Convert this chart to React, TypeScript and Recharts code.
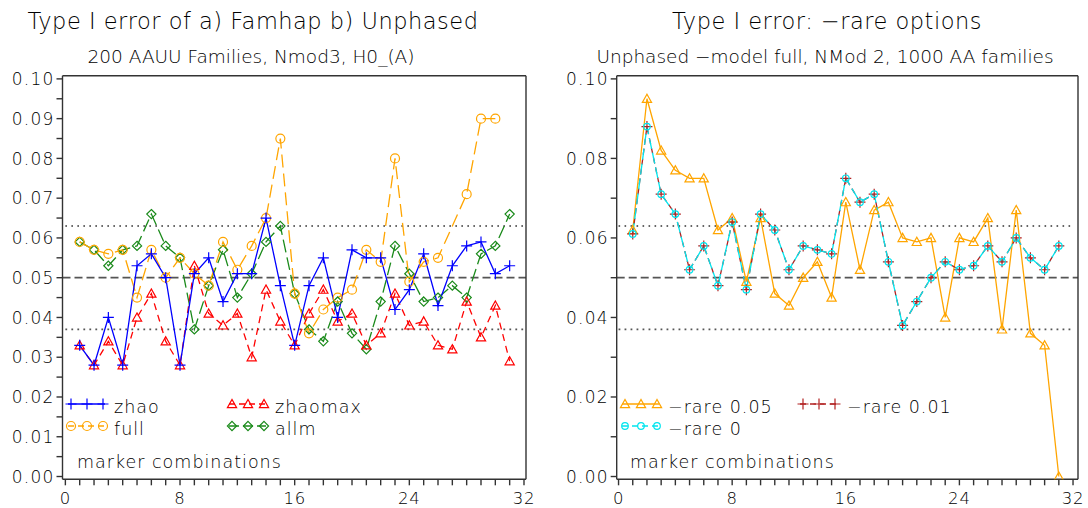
import React from 'react';
import { LineChart, Line, XAxis, YAxis, ReferenceLine } from 'recharts';

// ---- data ---------------------------------------------------------------
const markerCombos = [1, 2, 3, 4, 5, 6, 7, 8, 9, 10, 11, 12, 13, 14, 15, 16, 17, 18, 19, 20, 21, 22, 23, 24, 25, 26, 27, 28, 29, 30, 31];

// Left panel: Famhap / Unphased, 200 AAUU families
const zhao = [0.033, 0.028, 0.040, 0.028, 0.053, 0.056, 0.050, 0.028, 0.051, 0.055, 0.044, 0.051, 0.051, 0.065, 0.048, 0.033, 0.048, 0.055, 0.040, 0.057, 0.055, 0.055, 0.042, 0.047, 0.056, 0.043, 0.053, 0.058, 0.059, 0.051, 0.053];
const full = [0.059, 0.057, 0.056, 0.057, 0.045, 0.057, 0.050, 0.055, 0.051, 0.048, 0.059, 0.052, 0.058, 0.065, 0.085, 0.046, 0.036, 0.042, 0.045, 0.047, 0.057, 0.054, 0.080, 0.049, 0.054, 0.055, null, 0.071, 0.090, 0.090, null];
const zhaomax = [0.033, 0.028, 0.034, 0.028, 0.040, 0.046, 0.034, 0.028, 0.053, 0.041, 0.038, 0.041, 0.030, 0.047, 0.039, 0.033, 0.041, 0.047, 0.039, 0.041, 0.033, 0.036, 0.046, 0.038, 0.039, 0.033, 0.032, 0.044, 0.035, 0.043, 0.029];
const allm = [0.059, 0.057, 0.053, 0.057, 0.058, 0.066, 0.058, 0.055, 0.037, 0.048, 0.057, 0.045, 0.051, 0.059, 0.063, 0.046, 0.037, 0.034, 0.044, 0.036, 0.032, 0.044, 0.058, 0.051, 0.044, 0.045, 0.048, 0.045, 0.056, 0.058, 0.066];

// Right panel: Unphased -rare options, 1000 AA families
const rare005 = [0.062, 0.095, 0.082, 0.077, 0.075, 0.075, 0.062, 0.065, 0.049, 0.065, 0.046, 0.043, 0.050, 0.054, 0.045, 0.069, 0.052, 0.067, 0.069, 0.060, 0.059, 0.060, 0.040, 0.060, 0.059, 0.065, 0.037, 0.067, 0.036, 0.033, 0.000];
const rare001 = [0.061, 0.088, 0.071, 0.066, 0.052, 0.058, 0.048, 0.064, 0.047, 0.066, 0.062, 0.052, 0.058, 0.057, 0.056, 0.075, 0.069, 0.071, 0.054, 0.038, 0.044, 0.050, 0.054, 0.052, 0.053, 0.058, 0.054, 0.060, 0.055, 0.052, 0.058];
const rare0 = [0.061, 0.088, 0.071, 0.066, 0.052, 0.058, 0.048, 0.064, 0.047, 0.066, 0.062, 0.052, 0.058, 0.057, 0.056, 0.075, 0.069, 0.071, 0.054, 0.038, 0.044, 0.050, 0.054, 0.052, 0.053, 0.058, 0.054, 0.060, 0.055, 0.052, 0.058];

// Nominal level and its confidence band
const nominal = 0.05;
const bandLow = 0.037;
const bandHigh = 0.063;

const xTicks = [0, 1, 2, 3, 4, 5, 6, 7, 8, 9, 10, 11, 12, 13, 14, 15, 16, 17, 18, 19, 20, 21, 22, 23, 24, 25, 26, 27, 28, 29, 30, 31, 32];
const yTicksLeft = [0, 0.005, 0.01, 0.015, 0.02, 0.025, 0.03, 0.035, 0.04, 0.045, 0.05, 0.055, 0.06, 0.065, 0.07, 0.075, 0.08, 0.085, 0.09, 0.095, 0.1];
const yTicksRight = [0, 0.01, 0.02, 0.03, 0.04, 0.05, 0.06, 0.07, 0.08, 0.09, 0.1];

const leftRows = markerCombos.map((x, i) => ({ x, zhao: zhao[i], full: full[i], zhaomax: zhaomax[i], allm: allm[i] }));
const rightRows = markerCombos.map((x, i) => ({ x, rare005: rare005[i], rare001: rare001[i], rare0: rare0[i] }));

// ---- styling ------------------------------------------------------------
const FONT = '"DejaVu Sans", "Noto Sans", sans-serif';
const WEIGHT = 200;
const INK = '#000';
const AXIS = '#333';
const BLUE = '#0000ff';
const ORANGE = '#ffa500';
const RED = '#ff0000';
const GREEN = '#1a8a1a';
const DARKRED = '#b22222';
const CYAN = '#00e5ee';

const Y_DOMAIN: [number, number] = [-0.0007, 0.1008];
const XL_DOMAIN: [number, number] = [-0.2, 32.14];
const XR_DOMAIN: [number, number] = [-0.13, 32.35];

type Kind = 'plus' | 'circle' | 'smallcircle' | 'triangle' | 'diamond';

function Marker({ kind, cx, cy, color }: { kind: Kind; cx: number; cy: number; color: string }) {
  const sw = 1.2;
  switch (kind) {
    case 'plus':
      return <path d={`M${cx - 5.5},${cy}H${cx + 5.5}M${cx},${cy - 5.5}V${cy + 5.5}`} stroke={color} strokeWidth={sw} fill="none" />;
    case 'circle':
      return <circle cx={cx} cy={cy} r={4.5} stroke={color} strokeWidth={sw} fill="none" />;
    case 'smallcircle':
      return <circle cx={cx} cy={cy} r={3.3} stroke={color} strokeWidth={sw} fill="none" />;
    case 'triangle':
      return <path d={`M${cx - 4.6},${cy + 3.6}L${cx + 4.6},${cy + 3.6}L${cx},${cy - 4.6}Z`} stroke={color} strokeWidth={sw} fill="none" />;
    case 'diamond':
      return <path d={`M${cx},${cy - 4.6}L${cx + 4.6},${cy}L${cx},${cy + 4.6}L${cx - 4.6},${cy}Z`} stroke={color} strokeWidth={sw} fill="none" />;
  }
  return null;
}

const dotFor = (kind: Kind, color: string) => (p: any) => {
  const key = `${kind}-${color}-${p.index}`;
  if (p.cx == null || p.cy == null || p.value == null || Number.isNaN(p.cy)) return <g key={key} />;
  return (
    <g key={key}>
      <Marker kind={kind} cx={p.cx} cy={p.cy} color={color} />
    </g>
  );
};

const XTick = (props: any) => {
  const { x, y, payload } = props;
  if (payload.value % 8 !== 0) return <g />;
  return (
    <text x={x} y={y} dy="0.72em" textAnchor="middle" fontFamily={FONT} fontWeight={WEIGHT} fontSize={16.5} fill={INK} letterSpacing={0.8}>
      {payload.value}
    </text>
  );
};

const makeYTick = (step: number) => (props: any) => {
  const { x, y, payload } = props;
  const k = Math.round(payload.value * 1000);
  if (k % step !== 0) return <g />;
  return (
    <text x={x} y={y} dy="0.36em" textAnchor="end" fontFamily={FONT} fontWeight={WEIGHT} fontSize={17} fill={INK} letterSpacing={1.2}>
      {payload.value.toFixed(2)}
    </text>
  );
};

const YTickLeft = makeYTick(10);
const YTickRight = makeYTick(20);

function guides(xStart: number, xEnd: number, boxRight: number) {
  return [
    <ReferenceLine key="hi" segment={[{ x: xStart, y: bandHigh }, { x: xEnd, y: bandHigh }]} stroke="#333" strokeWidth={1.4} strokeDasharray="1.6 4.4" />,
    <ReferenceLine key="lo" segment={[{ x: xStart, y: bandLow }, { x: xEnd, y: bandLow }]} stroke="#555" strokeWidth={1.6} strokeDasharray="1.8 4.2" />,
    <ReferenceLine key="nom" y={nominal} stroke="#555" strokeWidth={1.8} strokeDasharray="8 4" />,
    <ReferenceLine key="top" y={Y_DOMAIN[1]} stroke={AXIS} strokeWidth={1.4} />,
    <ReferenceLine key="right" x={boxRight} stroke={AXIS} strokeWidth={1.4} />,
  ];
}

function LeftPanel() {
  return (
    <LineChart width={545} height={508} data={leftRows} margin={{ top: 75.7, right: 19, bottom: 0, left: 0 }}>
      <XAxis dataKey="x" type="number" domain={XL_DOMAIN} ticks={xTicks} interval={0} allowDataOverflow
        tick={<XTick />} tickSize={6} tickMargin={6.5} height={28.7} stroke={AXIS} strokeWidth={1.4} />
      <YAxis type="number" domain={Y_DOMAIN} ticks={yTicksLeft} interval={0} allowDataOverflow
        tick={<YTickLeft />} tickSize={6} tickMargin={2} width={62.5} stroke={AXIS} strokeWidth={1.4} />
      {guides(0, 32, XL_DOMAIN[1])}
      <Line dataKey="allm" stroke={GREEN} strokeWidth={1.3} strokeDasharray="13 5" dot={dotFor('diamond', GREEN)} isAnimationActive={false} />
      <Line dataKey="zhaomax" stroke={RED} strokeWidth={1.3} strokeDasharray="7 5" dot={dotFor('triangle', RED)} isAnimationActive={false} />
      <Line dataKey="full" stroke={ORANGE} strokeWidth={1.3} strokeDasharray="13 6" connectNulls dot={dotFor('circle', ORANGE)} isAnimationActive={false} />
      <Line dataKey="zhao" stroke={BLUE} strokeWidth={1.3} dot={dotFor('plus', BLUE)} isAnimationActive={false} />
    </LineChart>
  );
}

function RightPanel() {
  return (
    <LineChart width={543} height={508} data={rightRows} margin={{ top: 75.7, right: 10, bottom: 0, left: 0 }}>
      <XAxis dataKey="x" type="number" domain={XR_DOMAIN} ticks={xTicks} interval={0} allowDataOverflow
        tick={<XTick />} tickSize={6} tickMargin={6.5} height={28.7} stroke={AXIS} strokeWidth={1.4} />
      <YAxis type="number" domain={Y_DOMAIN} ticks={yTicksRight} interval={0} allowDataOverflow
        tick={<YTickRight />} tickSize={6} tickMargin={2} width={71.7} stroke={AXIS} strokeWidth={1.4} />
      {guides(0, 32, XR_DOMAIN[1])}
      <Line dataKey="rare005" stroke={ORANGE} strokeWidth={1.3} dot={dotFor('triangle', ORANGE)} isAnimationActive={false} />
      <Line dataKey="rare001" stroke={DARKRED} strokeWidth={1.3} strokeDasharray="6 4" dot={dotFor('plus', DARKRED)} isAnimationActive={false} />
      <Line dataKey="rare0" stroke={CYAN} strokeWidth={1.3} strokeDasharray="11 4" dot={dotFor('smallcircle', CYAN)} isAnimationActive={false} />
    </LineChart>
  );
}

// Legend entry: a short line with three markers
function LegendKey({ x, y, kind, color, dash, label, textX }: { x: number; y: number; kind: Kind; color: string; dash?: string; label: string; textX: number }) {
  return (
    <g>
      <line x1={x - 2} y1={y} x2={x + 35} y2={y} stroke={color} strokeWidth={1.3} strokeDasharray={dash} />
      <Marker kind={kind} cx={x + 1} cy={y} color={color} />
      <Marker kind={kind} cx={x + 17} cy={y} color={color} />
      <Marker kind={kind} cx={x + 33} cy={y} color={color} />
      <text x={textX} y={y + 9} fontFamily={FONT} fontWeight={WEIGHT} fontSize={17.5} fill={INK} letterSpacing={1}>{label}</text>
    </g>
  );
}

function Annotations() {
  return (
    <svg width={1088} height={508} style={{ position: 'absolute', left: 0, top: 0, pointerEvents: 'none' }}>
      <text x={253} y={29.3} textAnchor="middle" fontFamily={FONT} fontWeight={WEIGHT} fontSize={22.5} fill={INK} letterSpacing={0.5}>Type I error of a) Famhap b) Unphased</text>
      <text x={251} y={63} textAnchor="middle" fontFamily={FONT} fontWeight={WEIGHT} fontSize={18.5} fill={INK}>200 AAUU Families, Nmod3, H0_(A)</text>
      <text x={827} y={29.3} textAnchor="middle" fontFamily={FONT} fontWeight={WEIGHT} fontSize={22.5} fill={INK} letterSpacing={0.5}>Type I error: −rare options</text>
      <text x={825} y={63} textAnchor="middle" fontFamily={FONT} fontWeight={WEIGHT} fontSize={18.5} fill={INK}>Unphased −model full, NMod 2, 1000 AA families</text>

      <LegendKey x={70} y={404} kind="plus" color={BLUE} label="zhao" textX={114} />
      <LegendKey x={70} y={426} kind="circle" color={ORANGE} dash="6 4" label="full" textX={114} />
      <LegendKey x={231} y={404} kind="triangle" color={RED} dash="6 4" label="zhaomax" textX={275} />
      <LegendKey x={231} y={426} kind="diamond" color={GREEN} dash="10 4" label="allm" textX={275} />
      <text x={77} y={468} fontFamily={FONT} fontWeight={WEIGHT} fontSize={17.5} fill={INK} letterSpacing={1}>marker combinations</text>

      <LegendKey x={624} y={404} kind="triangle" color={ORANGE} label="−rare 0.05" textX={668} />
      <LegendKey x={624} y={426} kind="smallcircle" color={CYAN} dash="6 4" label="−rare 0" textX={668} />
      <LegendKey x={802} y={404} kind="plus" color={DARKRED} dash="6 4" label="−rare 0.01" textX={847} />
      <text x={630} y={468} fontFamily={FONT} fontWeight={WEIGHT} fontSize={17.5} fill={INK} letterSpacing={1}>marker combinations</text>
    </svg>
  );
}

export default function App() {
  return (
    <div style={{ position: 'absolute', left: 0, top: 0, width: 1088, height: 508, background: '#fff', overflow: 'hidden' }}>
      <div style={{ position: 'absolute', left: 0, top: 0 }}>
        <LeftPanel />
      </div>
      <div style={{ position: 'absolute', left: 545, top: 0 }}>
        <RightPanel />
      </div>
      <Annotations />
    </div>
  );
}
